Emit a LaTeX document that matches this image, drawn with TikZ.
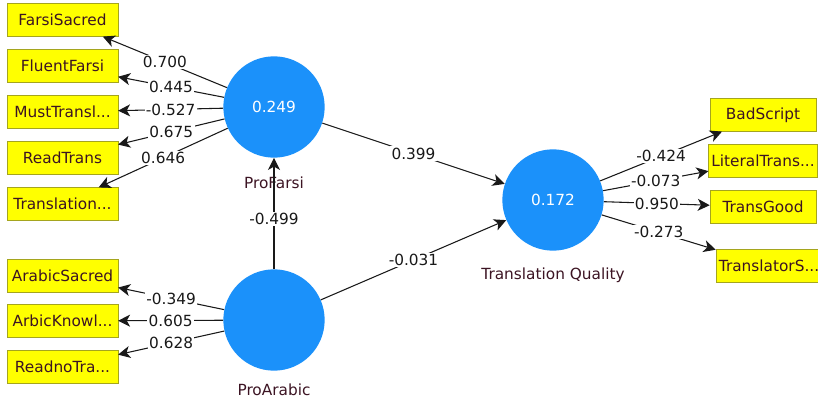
\documentclass[tikz,border=0pt]{standalone}
\usepackage{fontspec}
\setmainfont{DejaVu Sans}
\usetikzlibrary{arrows.meta}
\definecolor{plsblue}{RGB}{27,145,250}
\definecolor{plsyellow}{RGB}{255,255,0}
\definecolor{plsedge}{RGB}{165,165,30}
\definecolor{plstext}{RGB}{60,20,35}
\begin{document}
\begin{tikzpicture}[x=0.75pt,y=-0.75pt]
\tikzset{latent/.style={circle, fill=plsblue, minimum size=76pt, inner sep=0pt, text=white, font=\fontsize{11.5}{13}\selectfont},
  manifest/.style={draw=plsedge, fill=plsyellow, minimum width=83pt, minimum height=24.5pt, inner sep=2pt, text=plstext, font=\fontsize{11.5}{13}\selectfont},
  lvname/.style={text=plstext, font=\fontsize{11.5}{13}\selectfont},
  coef/.style={fill=white, inner sep=1pt, text=black!90, font=\fontsize{11.5}{13}\selectfont},
  lnk/.style={draw=black!90, line width=0.8pt, -{Stealth[length=9pt, width=9pt, inset=2.5pt]}}}
\useasboundingbox (0,0) rectangle (818,403);
\node[latent] (PF) at (274,107) {0.249};
\node[latent] (PA) at (274,320) {};
\node[latent] (TQ) at (553,200) {0.172};
\node[lvname] (PFn) at (274,183) {ProFarsi};
\node[lvname] (PAn) at (274,390) {ProArabic};
\node[lvname] (TQn) at (553,275) {Translation Quality};
\node[manifest] (FS) at (62.5,20) {FarsiSacred};
\node[manifest] (FF) at (62.5,66) {FluentFarsi};
\node[manifest] (MT) at (62.5,112) {MustTransl...};
\node[manifest] (RT) at (62.5,158) {ReadTrans};
\node[manifest] (TR) at (62.5,204) {Translation...};
\node[manifest] (AS) at (62.5,276) {ArabicSacred};
\node[manifest] (AK) at (62.5,321) {ArbicKnowl...};
\node[manifest] (RN) at (62.5,367) {ReadnoTra...};
\node[manifest, minimum width=79.5pt] (BS) at (763,115) {BadScript};
\node[manifest, minimum width=79.5pt] (LT) at (763,161) {LiteralTrans...};
\node[manifest, minimum width=79.5pt] (TG) at (763,207) {TransGood};
\node[manifest, minimum width=79.5pt] (TS) at (769,266) {TranslatorS...};
\draw[lnk] (PF) -- node[coef] {0.700} (FS);
\draw[lnk] (PF) -- node[coef] {0.445} (FF);
\draw[lnk] (PF) -- node[coef] {-0.527} (MT);
\draw[lnk] (PF) -- node[coef] {0.675} (RT);
\draw[lnk] (PF) -- node[coef] {0.646} (TR);
\draw[lnk] (PA) -- node[coef] {-0.349} (AS);
\draw[lnk] (PA) -- node[coef] {0.605} (AK);
\draw[lnk] (PA) -- node[coef] {0.628} (RN);
\draw[lnk] (TQ) -- node[coef] {-0.424} (BS);
\draw[lnk] (TQ) -- node[coef] {-0.073} (LT);
\draw[lnk] (TQ) -- node[coef] {0.950} (TG);
\draw[lnk] (TQ) -- node[coef] {-0.273} (TS);
\draw[lnk] (PA) -- node[coef, pos=0.45] {-0.499} (PF);
\draw[lnk] (PF) -- node[coef] {0.399} (TQ);
\draw[lnk] (PA) -- node[coef] {-0.031} (TQ);
\end{tikzpicture}
\end{document}
